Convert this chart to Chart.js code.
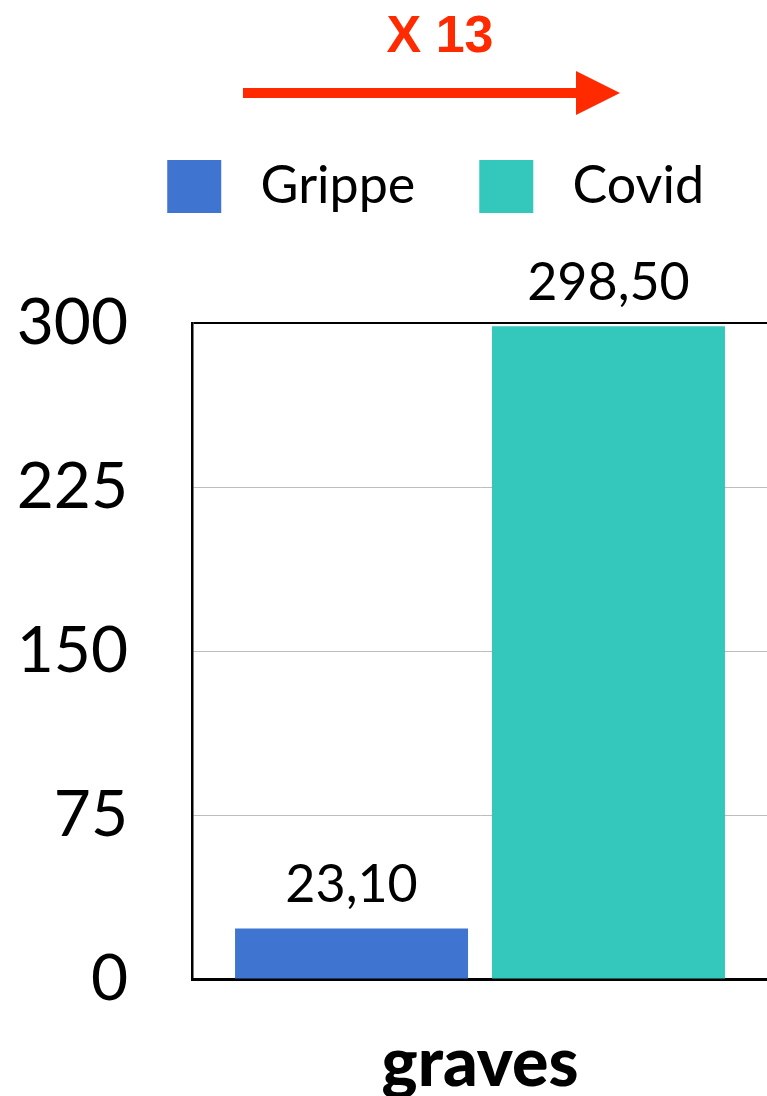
<!DOCTYPE html>
<html>
<head>
<meta charset="utf-8">
<script src="https://cdn.jsdelivr.net/npm/chart.js@4"></script>
<style>
  body { margin: 0; overflow: hidden; background: #fff; }
  .grafic { width: 768px; height: 1096px; }
</style>
</head>
<body>
<div class="grafic"><canvas id="myChart"></canvas></div>
<script>
const categorias = ['graves'];
const series = ['Grippe', 'Covid'];
const grippe = [23.1];
const covid = [298.5];
const colores = ['#3F74D1', '#34C7BB'];
const yTicks = [0, 75, 150, 225, 300];
const titulo = 'X 13';

const fuente = "Lato, 'Noto Sans', sans-serif";

// formato con coma decimal: 298,50
function fmt(v) {
    return v.toFixed(2).replace('.', ',');
}

// etiquetas encima de las barras
const etiquetas = {
    id: 'etiquetas',
    afterDatasetsDraw(chart) {
        const ctx = chart.ctx;
        ctx.save();
        ctx.font = '52px ' + fuente;
        ctx.fillStyle = '#000';
        ctx.textAlign = 'center';
        ctx.textBaseline = 'middle';
        chart.data.datasets.forEach((ds, i) => {
            chart.getDatasetMeta(i).data.forEach((bar, j) => {
                ctx.fillText(fmt(ds.data[j]), bar.x, bar.y - 43);
            });
        });
        ctx.restore();
    }
};

// "X 13" y flecha roja arriba
const flecha = {
    id: 'flecha',
    afterDraw(chart) {
        const ctx = chart.ctx;
        ctx.save();
        ctx.fillStyle = '#FF2A00';
        ctx.font = "bold 52px 'Liberation Sans', Arial, sans-serif";
        ctx.textAlign = 'center';
        ctx.textBaseline = 'alphabetic';
        ctx.fillText(titulo, 440, 52);
        ctx.fillRect(243, 88, 338, 10);
        ctx.beginPath();
        ctx.moveTo(576, 71);
        ctx.lineTo(620, 93);
        ctx.lineTo(576, 115);
        ctx.closePath();
        ctx.fill();
        ctx.restore();
    }
};

// espacio extra debajo de la leyenda
const espacioLeyenda = {
    id: 'espacioLeyenda',
    beforeInit(chart) {
        const fit = chart.legend.fit;
        chart.legend.fit = function () {
            fit.bind(chart.legend)();
            this.height += 100;
        };
    }
};

const ctx = document.getElementById('myChart');
new Chart(ctx, {
    type: 'bar',
    data: {
        labels: categorias,
        datasets: [
            { label: series[0], data: grippe, backgroundColor: colores[0] },
            { label: series[1], data: covid, backgroundColor: colores[1] }
        ]
    },
    options: {
        responsive: true,
        maintainAspectRatio: false,
        animation: false,
        layout: { padding: { top: 96, left: 0, right: 0 } },
        datasets: {
            bar: { categoryPercentage: 0.892, barPercentage: 0.907 }
        },
        plugins: {
            tooltip: { enabled: false },
            title: { display: false },
            legend: {
                display: true,
                align: 'end',
                labels: {
                    color: '#000',
                    font: { family: fuente, size: 52 },
                    boxWidth: 54,
                    boxHeight: 53,
                    padding: 64,
                    generateLabels(chart) {
                        const items = Chart.defaults.plugins.legend.labels.generateLabels(chart);
                        items.forEach(it => { it.text = ' ' + it.text; it.lineWidth = 0; });
                        return items;
                    }
                }
            }
        },
        scales: {
            x: {
                grid: { display: false },
                border: { color: '#000', width: 3 },
                ticks: {
                    color: '#000',
                    font: { family: fuente, size: 68, weight: '900' },
                    padding: 36
                },
                afterFit(scale) { scale.height = 117; }
            },
            y: {
                min: 0,
                max: 300,
                afterBuildTicks(scale) {
                    scale.ticks = yTicks.map(v => ({ value: v }));
                },
                grid: {
                    drawTicks: false,
                    color: c => (c.tick && c.tick.value === 300) ? '#000' : '#BDBDBD',
                    lineWidth: c => (c.tick && c.tick.value === 300) ? 2 : 1
                },
                border: { color: '#000', width: 2.5 },
                ticks: {
                    color: '#000',
                    font: { family: fuente, size: 64 },
                    padding: 64
                },
                afterFit(scale) { scale.width = 192; }
            }
        }
    },
    plugins: [etiquetas, flecha, espacioLeyenda]
});
</script>
</body>
</html>
